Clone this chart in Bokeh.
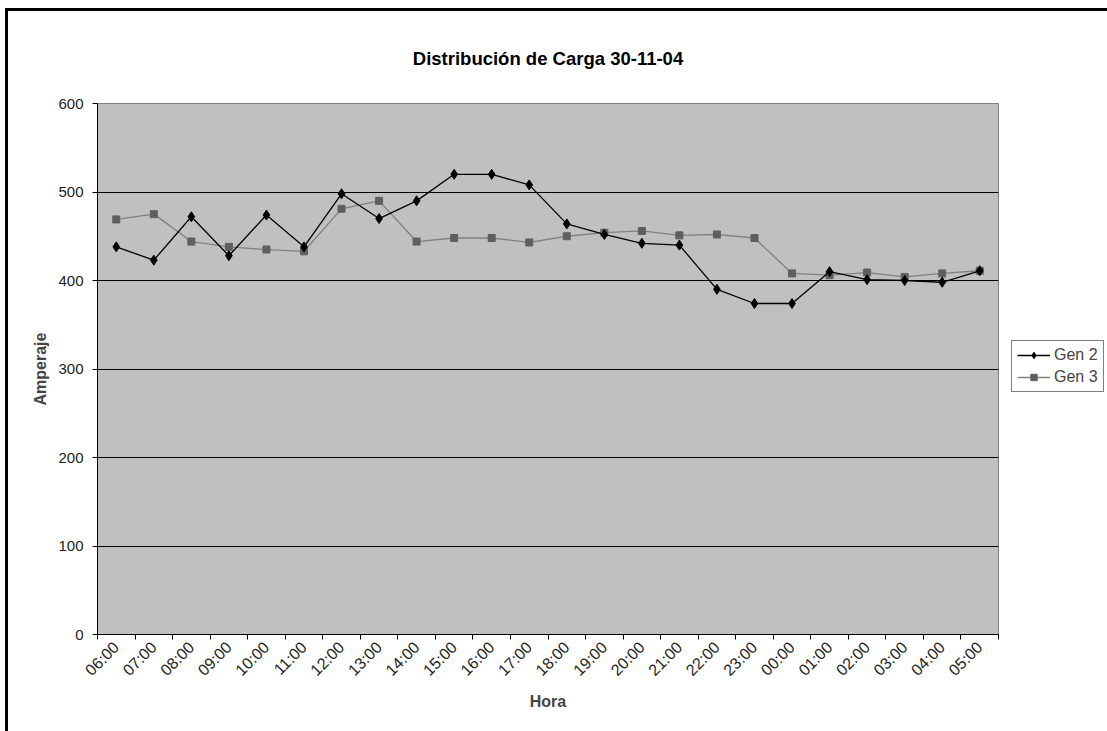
import math
from bokeh.plotting import figure
from bokeh.layouts import row
from bokeh.models import Range1d, FixedTicker, Legend, LegendItem, ColumnDataSource
from bokeh.embed import file_html
from bokeh.resources import INLINE

hours = ["06:00", "07:00", "08:00", "09:00", "10:00", "11:00", "12:00", "13:00",
         "14:00", "15:00", "16:00", "17:00", "18:00", "19:00", "20:00", "21:00",
         "22:00", "23:00", "00:00", "01:00", "02:00", "03:00", "04:00", "05:00"]
gen2 = [438, 423, 472, 428, 474, 438, 498, 470, 490, 520, 520, 508,
        464, 452, 442, 440, 390, 374, 374, 410, 401, 400, 398, 411]
gen3 = [469, 475, 444, 438, 435, 433, 481, 490, 444, 448, 448, 443,
        450, 454, 456, 451, 452, 448, 408, 406, 409, 404, 408, 411]
y_ticks = [0, 100, 200, 300, 400, 500, 600]
series_names = ["Gen 2", "Gen 3"]

FONT = "Liberation Sans"
G2_COLOR = "black"
G3_LINE = "#808080"
G3_MARK = "#5f5f5f"

xpos = [i + 0.5 for i in range(len(hours))]
src = ColumnDataSource(dict(x=xpos, g2=gen2, g3=gen3))

p = figure(width=1003, height=720, output_backend="svg", toolbar_location=None,
           x_range=Range1d(0, len(hours)), y_range=Range1d(0, 600),
           min_border_left=89, min_border_right=13, min_border_top=92, min_border_bottom=97)

p.background_fill_color = "#C0C0C0"
p.border_fill_color = "white"
p.outline_line_color = "#808080"
p.outline_line_width = 1

p.title.text = "Distribución de Carga 30-11-04"
p.title.align = "center"
p.title.text_font = FONT
p.title.text_font_size = "18.5px"
p.title.text_font_style = "bold"
p.title.text_color = "black"
p.title.standoff = 69

# x axis
p.xaxis.ticker = FixedTicker(ticks=xpos, minor_ticks=list(range(len(hours) + 1)))
p.xaxis.major_label_overrides = {x: h for x, h in zip(xpos, hours)}
p.xaxis.major_label_orientation = math.pi / 4
p.xaxis.major_tick_out = 0
p.xaxis.major_tick_in = 0
p.xaxis.minor_tick_out = 5
p.xaxis.minor_tick_in = 0
p.xaxis.minor_tick_line_color = "black"
p.xaxis.axis_line_color = "black"
p.xaxis.major_label_text_font = FONT
p.xaxis.major_label_text_font_size = "16px"
p.xaxis.major_label_text_color = "#222222"
p.xaxis.major_label_standoff = 5
p.xaxis.axis_label = "Hora"
p.xaxis.axis_label_text_font = FONT
p.xaxis.axis_label_text_font_size = "16px"
p.xaxis.axis_label_text_font_style = "bold"
p.xaxis.axis_label_standoff = 5

# y axis
p.yaxis.ticker = FixedTicker(ticks=y_ticks)
p.yaxis.minor_tick_line_color = None
p.yaxis.major_tick_out = 5
p.yaxis.major_tick_in = 0
p.yaxis.major_tick_line_color = "black"
p.yaxis.axis_line_color = "black"
p.yaxis.major_label_text_font = FONT
p.yaxis.major_label_text_font_size = "15px"
p.yaxis.major_label_text_color = "#222222"
p.yaxis.major_label_standoff = 9
p.yaxis.axis_label = "Amperaje"
p.yaxis.axis_label_text_font = FONT
p.yaxis.axis_label_text_font_size = "16px"
p.yaxis.axis_label_text_font_style = "bold"
p.yaxis.axis_label_standoff = 6

p.xgrid.grid_line_color = None
p.ygrid.ticker = FixedTicker(ticks=[100, 200, 300, 400, 500])
p.ygrid.grid_line_color = "black"
p.ygrid.grid_line_width = 1

p.line("x", "g3", source=src, line_color=G3_LINE, line_width=1.3)
p.scatter("x", "g3", source=src, marker="square", size=7,
          fill_color=G3_MARK, line_color=G3_MARK)
p.line("x", "g2", source=src, line_color=G2_COLOR, line_width=1.3)
p.scatter("x", "g2", source=src, marker="diamond", size=10,
          fill_color=G2_COLOR, line_color=G2_COLOR)

# legend panel: a small canvas right of the plot area; its ranges keep the
# series themselves out of view, so only the legend shows
q = figure(width=96, height=720, output_backend="svg", toolbar_location=None,
           x_range=Range1d(1000, 1001), y_range=Range1d(1000, 1001),
           min_border_left=0, min_border_right=0, min_border_top=0, min_border_bottom=0,
           x_axis_type=None, y_axis_type=None)
q.grid.visible = False
q.outline_line_color = None
q.background_fill_color = "white"
q.border_fill_color = "white"
ql2 = q.line("x", "g2", source=src, line_color=G2_COLOR, line_width=1.3)
qm2 = q.scatter("x", "g2", source=src, marker="diamond", size=10,
                fill_color=G2_COLOR, line_color=G2_COLOR)
ql3 = q.line("x", "g3", source=src, line_color=G3_LINE, line_width=1.3)
qm3 = q.scatter("x", "g3", source=src, marker="square", size=7,
                fill_color=G3_MARK, line_color=G3_MARK)

legend = Legend(items=[LegendItem(label=series_names[0], renderers=[ql2, qm2]),
                       LegendItem(label=series_names[1], renderers=[ql3, qm3])],
                location=(0, 242), orientation="vertical")
legend.border_line_color = "black"
legend.border_line_width = 1
legend.background_fill_color = "white"
legend.background_fill_alpha = 1
legend.label_text_font = FONT
legend.label_text_font_size = "16px"
legend.glyph_width = 33
legend.glyph_height = 16
legend.label_height = 16
legend.spacing = 4
legend.padding = 5
legend.margin = 0
legend.label_standoff = 4
q.add_layout(legend, "center")

layout = row(p, q)
layout.styles = {"margin-left": "5px", "margin-top": "8px",
                 "border-left": "3px solid black", "border-top": "3px solid black"}

open("out.html", "w").write(file_html(layout, INLINE))
